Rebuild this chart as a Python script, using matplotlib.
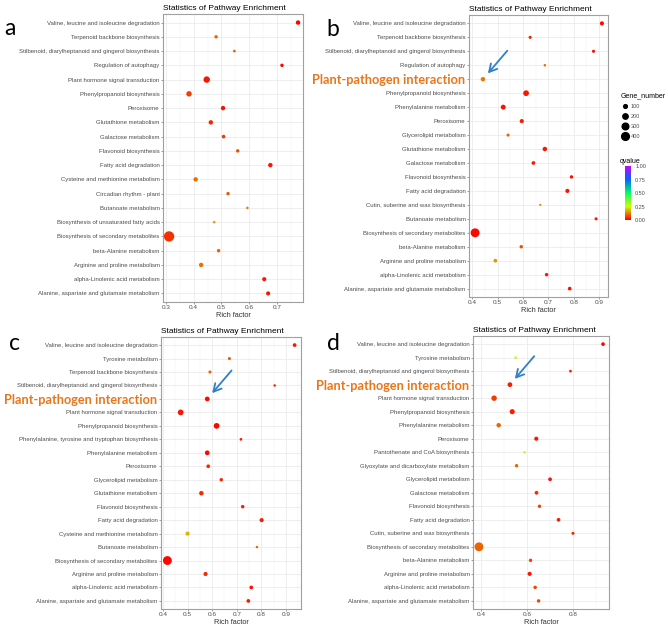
import numpy as np
import matplotlib
matplotlib.use("Agg")
import matplotlib.pyplot as plt
from matplotlib.colors import LinearSegmentedColormap, Normalize
from matplotlib.lines import Line2D

plt.rcParams['font.family'] = ['Liberation Sans', 'DejaVu Sans']

# ---- data ----
names_a = ["Valine, leucine and isoleucine degradation", "Terpenoid backbone biosynthesis",
           "Stilbenoid, diarylheptanoid and gingerol biosynthesis", "Regulation of autophagy",
           "Plant hormone signal transduction", "Phenylpropanoid biosynthesis", "Peroxisome",
           "Glutathione metabolism", "Galactose metabolism", "Flavonoid biosynthesis",
           "Fatty acid degradation", "Cysteine and methionine metabolism", "Circadian rhythm - plant",
           "Butanoate metabolism", "Biosynthesis of unsaturated fatty acids",
           "Biosynthesis of secondary metabolites", "beta-Alanine metabolism",
           "Arginine and proline metabolism", "alpha-Linolenic acid metabolism",
           "Alanine, aspartate and glutamate metabolism"]
rich_a = [0.777, 0.481, 0.547, 0.719, 0.447, 0.383, 0.506, 0.462, 0.508, 0.559,
          0.677, 0.407, 0.524, 0.594, 0.474, 0.311, 0.490, 0.427, 0.655, 0.669]
genes_a = [138, 86, 56, 86, 280, 203, 138, 138, 100, 86,
           138, 138, 86, 46, 56, 700, 86, 138, 120, 120]
q_a = [0.0, 0.1, 0.1, 0.01, 0.02, 0.06, 0.02, 0.04, 0.06, 0.08,
       0.02, 0.11, 0.09, 0.12, 0.17, 0.05, 0.1, 0.11, 0.02, 0.02]

names_b = ["Valine, leucine and isoleucine degradation", "Terpenoid backbone biosynthesis",
           "Stilbenoid, diarylheptanoid and gingerol biosynthesis", "Regulation of autophagy",
           "Plant-pathogen interaction", "Phenylpropanoid biosynthesis", "Phenylalanine metabolism",
           "Peroxisome", "Glycerolipid metabolism", "Glutathione metabolism", "Galactose metabolism",
           "Flavonoid biosynthesis", "Fatty acid degradation", "Cutin, suberine and wax biosynthesis",
           "Butanoate metabolism", "Biosynthesis of secondary metabolites", "beta-Alanine metabolism",
           "Arginine and proline metabolism", "alpha-Linolenic acid metabolism",
           "Alanine, aspartate and glutamate metabolism"]
rich_b = [0.911, 0.628, 0.878, 0.686, 0.442, 0.612, 0.522, 0.595, 0.541, 0.686,
          0.641, 0.791, 0.775, 0.668, 0.888, 0.411, 0.593, 0.491, 0.693, 0.784]
genes_b = [120, 70, 70, 46, 138, 225, 165, 120, 70, 138,
           100, 86, 120, 36, 70, 520, 86, 100, 86, 100]
q_b = [0.01, 0.03, 0.01, 0.1, 0.12, 0.02, 0.02, 0.03, 0.1, 0.02,
       0.03, 0.02, 0.02, 0.13, 0.03, 0.01, 0.08, 0.15, 0.02, 0.02]

names_c = ["Valine, leucine and isoleucine degradation", "Tyrosine metabolism",
           "Terpenoid backbone biosynthesis", "Stilbenoid, diarylheptanoid and gingerol biosynthesis",
           "Plant-pathogen interaction", "Plant hormone signal transduction",
           "Phenylpropanoid biosynthesis", "Phenylalanine, tyrosine and tryptophan biosynthesis",
           "Phenylalanine metabolism", "Peroxisome", "Glycerolipid metabolism",
           "Glutathione metabolism", "Flavonoid biosynthesis", "Fatty acid degradation",
           "Cysteine and methionine metabolism", "Butanoate metabolism",
           "Biosynthesis of secondary metabolites", "Arginine and proline metabolism",
           "alpha-Linolenic acid metabolism", "Alanine, aspartate and glutamate metabolism"]
rich_c = [0.935, 0.670, 0.591, 0.854, 0.580, 0.472, 0.618, 0.717, 0.580, 0.584,
          0.637, 0.556, 0.724, 0.801, 0.500, 0.782, 0.418, 0.573, 0.759, 0.747]
genes_c = [100, 70, 70, 46, 155, 225, 225, 56, 155, 100,
           86, 138, 86, 120, 120, 46, 520, 120, 100, 100]
q_c = [0.02, 0.09, 0.1, 0.02, 0.01, 0.02, 0.01, 0.03, 0.01, 0.04,
       0.04, 0.04, 0.03, 0.03, 0.18, 0.1, 0.01, 0.04, 0.02, 0.03]

names_d = ["Valine, leucine and isoleucine degradation", "Tyrosine metabolism",
           "Stilbenoid, diarylheptanoid and gingerol biosynthesis", "Plant-pathogen interaction",
           "Plant hormone signal transduction", "Phenylpropanoid biosynthesis",
           "Phenylalanine metabolism", "Peroxisome", "Pantothenate and CoA biosynthesis",
           "Glyoxylate and dicarboxylate metabolism", "Glycerolipid metabolism",
           "Galactose metabolism", "Flavonoid biosynthesis", "Fatty acid degradation",
           "Cutin, suberine and wax biosynthesis", "Biosynthesis of secondary metabolites",
           "beta-Alanine metabolism", "Arginine and proline metabolism",
           "alpha-Linolenic acid metabolism", "Alanine, aspartate and glutamate metabolism"]
rich_d = [0.932, 0.551, 0.790, 0.526, 0.457, 0.536, 0.477, 0.641, 0.590, 0.555,
          0.701, 0.642, 0.655, 0.738, 0.801, 0.391, 0.616, 0.612, 0.636, 0.651]
genes_d = [100, 56, 56, 155, 203, 180, 138, 120, 46, 86,
           100, 100, 86, 100, 70, 520, 86, 120, 86, 86]
q_d = [0.01, 0.26, 0.03, 0.03, 0.06, 0.03, 0.1, 0.02, 0.24, 0.1,
       0.02, 0.04, 0.07, 0.03, 0.04, 0.1, 0.07, 0.02, 0.07, 0.07]

legend_genes = [100, 200, 300, 400]
cbar_ticks = [0.0, 0.25, 0.5, 0.75, 1.0]

# ---- style ----
W, H = 668, 629
cmap = LinearSegmentedColormap.from_list("rb", ["#FF0000", "#CCFF00", "#00FF66", "#0066FF", "#CC00FF"])
norm = Normalize(0, 1)
highlight = "Plant-pathogen interaction"
orange = "#E8761B"
blue = "#2F80C8"


def box(l, t, r, b):
    return [l / W, 1 - b / H, (r - l) / W, (b - t) / H]


def diam_pt(n):
    # dot diameter in px grows with sqrt(gene number), converted to points
    return (0.4 * np.sqrt(n) - 0.25) * 0.72


def panel(rect, names, rich, genes, q, xlim, xticks, minor):
    ax = fig.add_axes(rect)
    y = np.arange(len(names))
    ax.scatter(rich, y, s=diam_pt(np.array(genes)) ** 2, c=q, cmap=cmap, norm=norm,
               linewidths=0, zorder=3)
    ax.set_ylim(len(names) - 0.4, -0.6)
    ax.set_xlim(*xlim)
    ax.set_yticks(y)
    ax.set_yticklabels(names)
    ax.set_xticks(xticks)
    ax.set_xticklabels([f"{t:g}" for t in xticks])
    ax.set_xticks(minor, minor=True)
    ax.grid(True, which="major", color="#EBEBEB", lw=0.6)
    ax.grid(True, which="minor", axis="x", color="#F2F2F2", lw=0.35)
    ax.set_axisbelow(True)
    ax.tick_params(which="major", length=1.5, width=0.4, pad=1, color="#555555",
                   labelcolor="#4D4D4D")
    ax.tick_params(which="minor", length=0)
    ax.tick_params(axis="y", labelsize=4.3)
    ax.tick_params(axis="x", labelsize=4.6)
    for s in ax.spines.values():
        s.set_color("#A0A0A0")
        s.set_linewidth(0.8)
    ax.set_title("Statistics of Pathway Enrichment", loc="left", fontsize=6, pad=3)
    ax.set_xlabel("Rich factor", fontsize=5.3, labelpad=1, color="#333333")
    for lab in ax.get_yticklabels():
        if lab.get_text() == highlight:
            lab.set_fontfamily("Lato")
            lab.set_fontweight("bold")
            lab.set_fontsize(9.2)
            lab.set_color(orange)
    return ax


def arrow(ax, names, rich):
    i = names.index(highlight)
    ax.annotate("", xy=(rich[i], i), xycoords="data", xytext=(17.5, 20.5),
                textcoords="offset points",
                arrowprops=dict(arrowstyle="->,head_length=0.55,head_width=0.3", color=blue,
                                lw=1.3, shrinkA=0, shrinkB=5.5))


fig = plt.figure(figsize=(W / 100, H / 100), dpi=100)

ax_a = panel(box(163, 14, 303, 302), names_a, rich_a, genes_a, q_a, (0.289, 0.795),
             [0.3, 0.4, 0.5, 0.6, 0.7], [0.35, 0.45, 0.55, 0.65, 0.75])
ax_b = panel(box(469, 15, 608, 297), names_b, rich_b, genes_b, q_b, (0.387, 0.935),
             [0.4, 0.5, 0.6, 0.7, 0.8, 0.9], [0.45, 0.55, 0.65, 0.75, 0.85])
ax_c = panel(box(161, 337, 301, 609), names_c, rich_c, genes_c, q_c, (0.392, 0.961),
             [0.4, 0.5, 0.6, 0.7, 0.8, 0.9], [0.45, 0.55, 0.65, 0.75, 0.85, 0.95])
ax_d = panel(box(473, 336, 609, 609), names_d, rich_d, genes_d, q_d, (0.365, 0.958),
             [0.4, 0.6, 0.8], [0.5, 0.7, 0.9])

arrow(ax_b, names_b, rich_b)
arrow(ax_c, names_c, rich_c)
arrow(ax_d, names_d, rich_d)

# panel letters
for lx, ly, letter in [(9.5, 35, "a"), (333, 36, "b"), (14.5, 350, "c"), (333, 350, "d")]:
    fig.text(lx / W, 1 - ly / H, letter, fontsize=16.5, family="Lato", ha="center", va="baseline")

# size legend
handles = [Line2D([], [], ls="", marker="o", color="black", markersize=diam_pt(g)) for g in legend_genes]
leg = fig.legend(handles, [str(g) for g in legend_genes], title="Gene_number",
                 loc="upper left", bbox_to_anchor=(618 / W, 1 - 89 / H), frameon=False,
                 fontsize=4, title_fontsize=5, labelspacing=0.9, handletextpad=0.3,
                 borderpad=0, handlelength=1.5)
leg._legend_box.align = "left"
for t in leg.get_texts():
    t.set_color("#4D4D4D")

# qvalue colorbar
cax = fig.add_axes(box(625, 166, 631, 220))
cb = fig.colorbar(plt.cm.ScalarMappable(norm=norm, cmap=cmap), cax=cax, ticks=cbar_ticks)
cb.outline.set_visible(False)
cb.ax.set_yticklabels([f"{t:.2f}" for t in cbar_ticks])
cb.ax.tick_params(labelsize=4, length=1.5, width=0.4, color="white", pad=1.5, labelcolor="#4D4D4D")
fig.text(620 / W, 1 - 163 / H, "qvalue", fontsize=5, ha="left", va="baseline")

fig.savefig("out.png", dpi=100)
